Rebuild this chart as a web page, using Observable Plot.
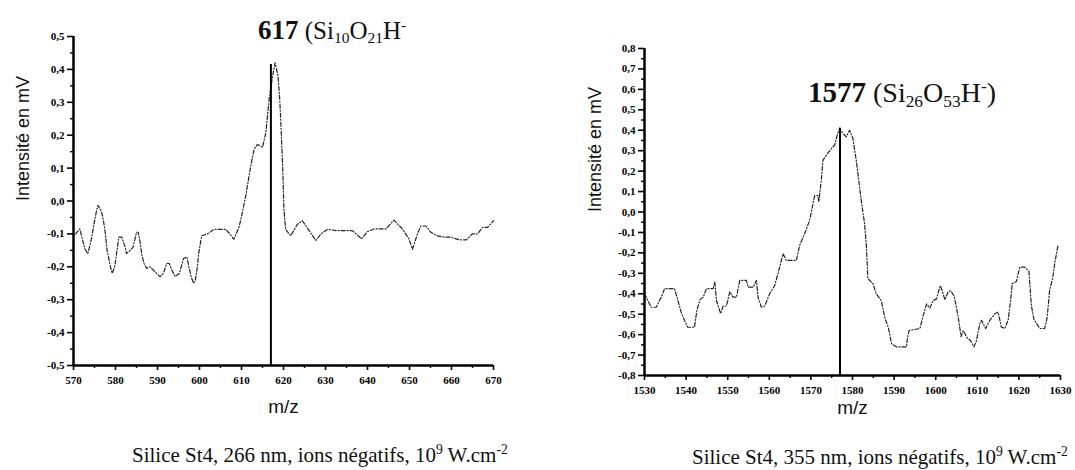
<!DOCTYPE html>
<html>
<head>
<meta charset="utf-8">
<script src="https://cdn.jsdelivr.net/npm/d3@7"></script>
<script src="https://cdn.jsdelivr.net/npm/@observablehq/plot@0.6"></script>
<style>
  html, body { margin: 0; padding: 0; background: #fff; }
  #wrap { position: relative; width: 1075px; height: 470px; overflow: hidden; background: #fff; }
  .chart { position: absolute; top: 0; }
  .title { position: absolute; font-family: "Liberation Serif", "DejaVu Serif", serif; color: #111; white-space: nowrap; line-height: 1; }
  .title b { font-weight: bold; }
  .title sub { font-size: 0.62em; vertical-align: -0.25em; }
  .title sup { font-size: 0.62em; vertical-align: 0.6em; }
  .caption { position: absolute; font-family: "Liberation Serif", "DejaVu Serif", serif; font-size: 21px; color: #111; white-space: nowrap; line-height: 1; }
  .caption sup { font-size: 0.65em; vertical-align: 0.55em; }
</style>
</head>
<body>
<div id="wrap">
  <div id="left" class="chart" style="left:0px"></div>
  <div id="right" class="chart" style="left:540px"></div>
  <div class="title" style="left:258px; top:17px; font-size:25px;"><b style="font-size:27px">617</b> (Si<sub>10</sub>O<sub>21</sub>H<sup>-</sup></div>
  <div class="title" style="left:808px; top:78px; font-size:28px;"><b style="font-size:29px">1577</b> (Si<sub>26</sub>O<sub>53</sub>H<sup>-</sup>)</div>
  <div class="caption" style="left:132px; top:443px;">Silice St4, 266 nm, ions négatifs, 10<sup>9</sup> W.cm<sup>-2</sup></div>
  <div class="caption" style="left:692px; top:445px;">Silice St4, 355 nm, ions négatifs, 10<sup>9</sup> W.cm<sup>-2</sup></div>
</div>
<script>
// ---- Data: left spectrum (266 nm) ----
const leftMz = [570.5,571.5,572.7,573.4,574.2,574.8,575.4,575.8,576.6,577.0,577.5,578.0,578.8,579.2,579.8,580.8,581.5,582.3,582.6,583.5,584.2,585.0,585.4,585.8,586.3,586.8,587.4,588.2,589.0,589.8,590.6,591.4,592.2,592.8,593.4,594.2,595.2,596.2,597.0,597.4,598.0,598.6,599.0,599.5,599.8,600.5,601.9,603.5,606.3,608.2,609.4,610.2,611.0,612.2,613.0,613.8,615.0,615.8,616.6,617.4,618.0,618.7,619.1,619.4,619.8,620.1,620.5,621.7,623.3,624.5,626.1,627.7,628.9,630.5,632.5,636.4,638.6,640.0,641.6,644.4,646.3,648.3,649.9,650.7,651.9,652.7,653.9,655.1,656.7,658.3,659.9,661.8,663.5,665.0,666.2,667.4,668.6,670.0];
const leftIntensity = [-0.10,-0.085,-0.145,-0.16,-0.12,-0.076,-0.035,-0.013,-0.03,-0.05,-0.09,-0.15,-0.20,-0.22,-0.20,-0.11,-0.11,-0.14,-0.16,-0.15,-0.14,-0.095,-0.095,-0.12,-0.165,-0.19,-0.205,-0.20,-0.21,-0.22,-0.23,-0.22,-0.19,-0.19,-0.21,-0.23,-0.22,-0.175,-0.17,-0.195,-0.23,-0.25,-0.24,-0.20,-0.16,-0.106,-0.10,-0.086,-0.086,-0.116,-0.08,-0.035,0.015,0.106,0.157,0.172,0.163,0.208,0.31,0.38,0.42,0.38,0.31,0.228,0.106,-0.025,-0.086,-0.106,-0.071,-0.06,-0.09,-0.12,-0.10,-0.086,-0.09,-0.09,-0.115,-0.093,-0.085,-0.085,-0.058,-0.085,-0.116,-0.147,-0.10,-0.076,-0.076,-0.095,-0.106,-0.11,-0.11,-0.118,-0.118,-0.10,-0.10,-0.08,-0.08,-0.06];

// ---- Data: right spectrum (355 nm) ----
const rightMz = [1530.0,1530.8,1531.6,1532.8,1533.6,1534.4,1534.8,1537.2,1538.0,1538.8,1539.6,1540.4,1542.0,1542.6,1543.3,1544.1,1544.9,1546.5,1546.9,1547.3,1548.3,1548.9,1549.7,1550.5,1551.3,1552.1,1552.9,1554.5,1554.9,1556.1,1556.9,1557.3,1558.1,1558.9,1560.1,1561.3,1562.5,1563.3,1564.1,1566.5,1567.3,1568.5,1569.7,1570.5,1570.9,1571.7,1571.9,1572.5,1572.9,1573.7,1574.9,1575.7,1576.3,1576.9,1577.7,1578.5,1579.3,1580.1,1580.9,1581.3,1582.1,1582.9,1583.3,1583.7,1584.9,1585.7,1586.9,1587.8,1588.6,1589.4,1590.6,1593.0,1593.1,1593.6,1596.2,1597.0,1597.8,1598.6,1599.4,1600.2,1601.1,1601.8,1602.2,1603.0,1603.6,1604.4,1605.0,1605.6,1606.1,1606.6,1607.6,1608.4,1609.2,1609.8,1610.6,1611.0,1612.0,1613.0,1614.2,1615.0,1615.8,1616.6,1617.4,1618.0,1618.4,1619.4,1620.2,1621.4,1622.4,1623.0,1623.6,1625.0,1626.2,1626.8,1627.4,1628.1,1628.6,1629.4];
const rightIntensity = [-0.40,-0.433,-0.466,-0.466,-0.433,-0.40,-0.375,-0.375,-0.43,-0.49,-0.53,-0.564,-0.564,-0.48,-0.43,-0.417,-0.375,-0.375,-0.343,-0.433,-0.497,-0.46,-0.46,-0.39,-0.417,-0.417,-0.335,-0.335,-0.368,-0.368,-0.335,-0.417,-0.466,-0.46,-0.40,-0.36,-0.27,-0.204,-0.237,-0.237,-0.163,-0.106,-0.04,0.04,0.08,0.08,0.05,0.155,0.253,0.278,0.31,0.327,0.375,0.41,0.384,0.368,0.40,0.36,0.253,0.188,0.057,-0.057,-0.155,-0.326,-0.35,-0.40,-0.433,-0.52,-0.564,-0.645,-0.66,-0.66,-0.63,-0.58,-0.57,-0.506,-0.45,-0.47,-0.433,-0.425,-0.36,-0.40,-0.43,-0.39,-0.385,-0.41,-0.466,-0.54,-0.61,-0.58,-0.616,-0.63,-0.66,-0.63,-0.547,-0.53,-0.57,-0.53,-0.498,-0.49,-0.564,-0.57,-0.53,-0.433,-0.35,-0.34,-0.27,-0.27,-0.29,-0.457,-0.525,-0.57,-0.57,-0.515,-0.38,-0.326,-0.253,-0.163];

// ---- Peak markers ----
const leftPeak = [617];
const leftPeakTop = [0.415];
const rightPeak = [1577];
const rightPeakTop = [0.41];

// ---- Ticks ----
const leftXTicks = [570,580,590,600,610,620,630,640,650,660,670];
const leftYTicks = [-0.5,-0.4,-0.3,-0.2,-0.1,0.0,0.1,0.2,0.3,0.4,0.5];
const rightXTicks = [1530,1540,1550,1560,1570,1580,1590,1600,1610,1620,1630];
const rightYTicks = [-0.8,-0.7,-0.6,-0.5,-0.4,-0.3,-0.2,-0.1,0.0,0.1,0.2,0.3,0.4,0.5,0.6,0.7,0.8];

const fmtComma = d => (Math.abs(d) < 1e-9 ? "0,0" : d.toFixed(1).replace(".", ","));
const SERIF = "Liberation Serif, DejaVu Serif, serif";
const SANS = "Liberation Sans, Arial, sans-serif";

function minors(ticks, step) {
  const out = [];
  for (let i = 0; i < ticks.length - 1; i++) out.push(+(ticks[i] + step).toFixed(4));
  return out;
}

function makeChart({mz, val, xTicks, yTicks, xMinorStep, yMinorStep, peak, peakTop, width, height, margins, ylabelDx, mzDy}) {
  const data = mz.map((m, i) => ({mz: m, v: val[i]}));
  const x0 = xTicks[0], y0 = yTicks[0];
  return Plot.plot({
    width, height,
    marginLeft: margins[0], marginRight: margins[1], marginTop: margins[2], marginBottom: margins[3],
    style: {background: "#fff", overflow: "visible"},
    x: {domain: [xTicks[0], xTicks[xTicks.length - 1]]},
    y: {domain: [yTicks[0], yTicks[yTicks.length - 1]]},
    marks: [
      Plot.axisX({ticks: xTicks, tickSize: 5, tickPadding: 6, tickFormat: d => String(d), fontSize: 11, fontFamily: SERIF, fontWeight: "bold", strokeWidth: 1.6, label: null}),
      Plot.axisX({ticks: minors(xTicks, xMinorStep), tickSize: 3, tickFormat: () => "", strokeWidth: 1.4, label: null}),
      Plot.axisY({ticks: yTicks, tickSize: 6, tickPadding: 3, tickFormat: fmtComma, fontSize: 11, fontFamily: SERIF, fontWeight: "bold", strokeWidth: 1.6, label: null}),
      Plot.axisY({ticks: minors(yTicks, yMinorStep), tickSize: 3, tickFormat: () => "", strokeWidth: 1.4, label: null}),
      Plot.ruleX([x0], {stroke: "#000", strokeWidth: 2.5}),
      Plot.ruleY([y0], {stroke: "#000", strokeWidth: 2.5}),
      Plot.line(data, {x: "mz", y: "v", stroke: "#222", strokeWidth: 1.2, strokeDasharray: "4,2,1,2", curve: "linear"}),
      Plot.ruleX(peak.map((p, i) => ({x: p, top: peakTop[i]})), {x: "x", y1: y0, y2: "top", stroke: "#000", strokeWidth: 2}),
      Plot.text(["Intensité en mV"], {frameAnchor: "left", dx: ylabelDx, rotate: -90, fontSize: 18, fontFamily: SANS, fill: "#111"}),
      Plot.text(["m/z"], {frameAnchor: "bottom", dy: mzDy, fontSize: 19, fontFamily: SANS, fill: "#111"})
    ]
  });
}

document.getElementById("left").appendChild(makeChart({
  mz: leftMz, val: leftIntensity, xTicks: leftXTicks, yTicks: leftYTicks,
  xMinorStep: 5, yMinorStep: 0.05, peak: leftPeak, peakTop: leftPeakTop,
  width: 540, height: 400, margins: [73, 47, 36, 35], ylabelDx: -50, mzDy: 47
}));

document.getElementById("right").appendChild(makeChart({
  mz: rightMz, val: rightIntensity, xTicks: rightXTicks, yTicks: rightYTicks,
  xMinorStep: 5, yMinorStep: 0.05, peak: rightPeak, peakTop: rightPeakTop,
  width: 535, height: 410, margins: [104, 15, 48, 35], ylabelDx: -49, mzDy: 38
}));
</script>
</body>
</html>
